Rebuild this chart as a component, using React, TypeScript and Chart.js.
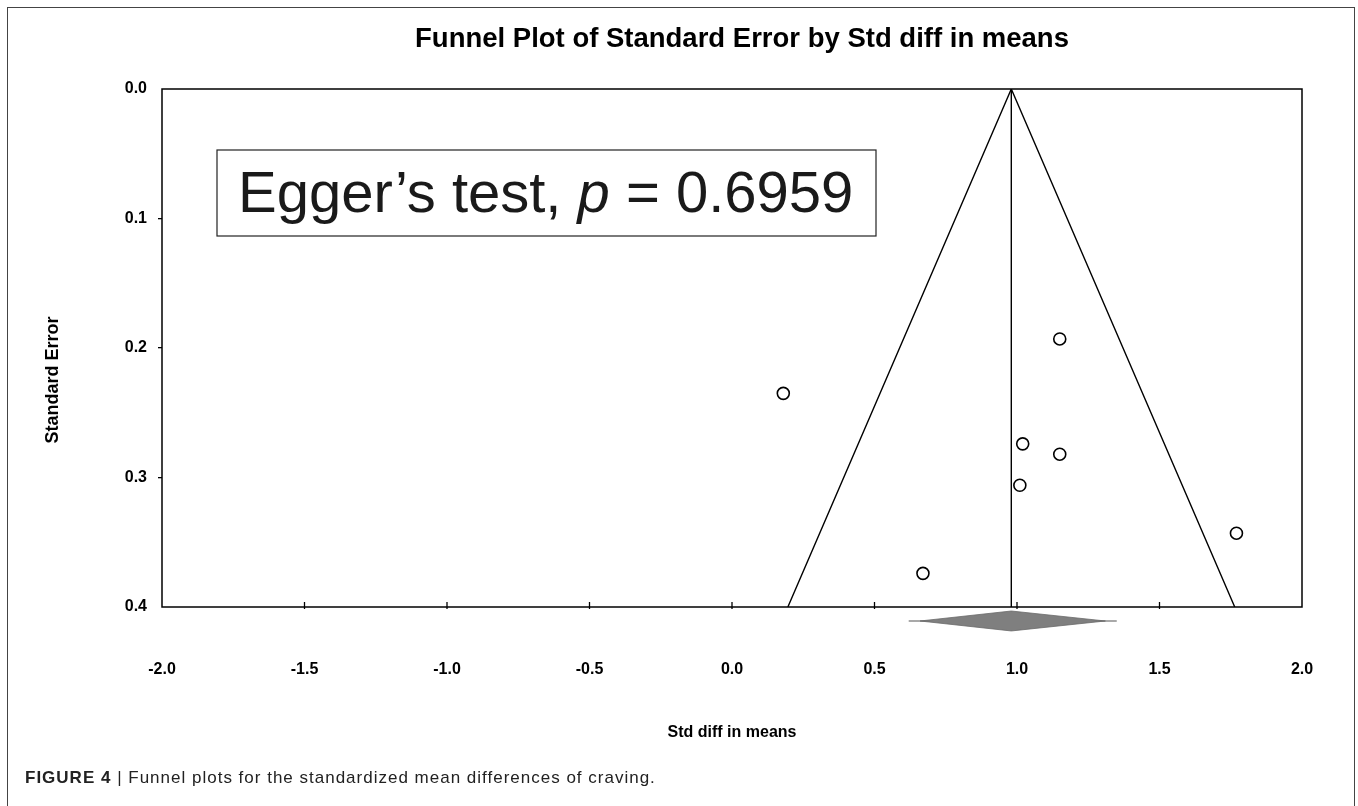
import React, { useEffect, useRef } from "react";
import { Chart, registerables } from "chart.js";

Chart.register(...registerables);

// ---- Data ----
const studyEffect = [1.15, 0.18, 1.02, 1.15, 1.01, 1.77, 0.67];
const studySE = [0.193, 0.235, 0.274, 0.282, 0.306, 0.343, 0.374];

const funnelX = [0.196, 0.98, 1.764];
const funnelY = [0.4, 0.0, 0.4];

const centerX = [0.98, 0.98];
const centerY = [0.0, 0.4];

const diamondX = [0.66, 0.98, 1.31, 0.98];
const diamondY = [0.4108, 0.4031, 0.4108, 0.4185];
const whiskerX = [0.62, 1.35];
const whiskerY = [0.4108, 0.4108];

const xTickValues = [-2.0, -1.5, -1.0, -0.5, 0.0, 0.5, 1.0, 1.5, 2.0];
const yTickValues = [0.0, 0.1, 0.2, 0.3, 0.4];

const chartTitle = "Funnel Plot of Standard Error by Std diff in means";
const xTitle = "Std diff in means";
const yTitle = "Standard Error";
const eggerPre = "Egger\u2019s test, ";
const eggerP = "p";
const eggerPost = " = 0.6959";

const FONT = '"Liberation Sans", Arial, Helvetica, sans-serif';

const overlayPlugin = {
  id: "overlay",
  afterDraw(chart: any) {
    const ctx = chart.ctx as CanvasRenderingContext2D;
    const { left, right, top, bottom } = chart.chartArea;
    const xs = chart.scales.x;
    const ys = chart.scales.y;
    ctx.save();

    // plot box
    ctx.strokeStyle = "#000";
    ctx.lineWidth = 1.5;
    ctx.strokeRect(left, top, right - left, bottom - top);

    // x tick marks crossing the bottom axis
    ctx.lineWidth = 1.3;
    xTickValues.forEach((v, i) => {
      if (i === 0 || i === xTickValues.length - 1) return;
      const px = xs.getPixelForValue(v);
      ctx.beginPath();
      ctx.moveTo(px, bottom - 5);
      ctx.lineTo(px, bottom + 2);
      ctx.stroke();
    });

    // summary diamond with whisker
    ctx.strokeStyle = "#555";
    ctx.lineWidth = 1.2;
    ctx.beginPath();
    ctx.moveTo(xs.getPixelForValue(whiskerX[0]), ys.getPixelForValue(whiskerY[0]));
    ctx.lineTo(xs.getPixelForValue(whiskerX[1]), ys.getPixelForValue(whiskerY[1]));
    ctx.stroke();
    ctx.beginPath();
    diamondX.forEach((v, i) => {
      const px = xs.getPixelForValue(v);
      const py = ys.getPixelForValue(diamondY[i]);
      if (i === 0) ctx.moveTo(px, py);
      else ctx.lineTo(px, py);
    });
    ctx.closePath();
    ctx.fillStyle = "#7f7f7f";
    ctx.fill();
    ctx.strokeStyle = "#6a6a6a";
    ctx.lineWidth = 0.8;
    ctx.stroke();

    // main title
    ctx.fillStyle = "#000";
    ctx.textBaseline = "alphabetic";
    ctx.textAlign = "center";
    ctx.font = `bold 27.5px ${FONT}`;
    ctx.fillText(chartTitle, 742, 47);

    // x axis title
    ctx.font = `bold 16px ${FONT}`;
    ctx.fillText(xTitle, (left + right) / 2, 737);

    // y axis title
    ctx.save();
    ctx.translate(58, 380);
    ctx.rotate(-Math.PI / 2);
    ctx.font = `bold 18px ${FONT}`;
    ctx.textAlign = "center";
    ctx.fillText(yTitle, 0, 0);
    ctx.restore();

    // Egger's test box
    ctx.strokeStyle = "#222";
    ctx.lineWidth = 1.2;
    ctx.strokeRect(217, 150, 659, 86);
    ctx.fillStyle = "#1a1a1a";
    ctx.textAlign = "left";
    let tx = 238;
    const ty = 212;
    ctx.font = `58px ${FONT}`;
    ctx.fillText(eggerPre, tx, ty);
    tx += ctx.measureText(eggerPre).width;
    ctx.font = `italic 58px ${FONT}`;
    ctx.fillText(eggerP, tx, ty);
    tx += ctx.measureText(eggerP).width;
    ctx.font = `58px ${FONT}`;
    ctx.fillText(eggerPost, tx, ty);

    ctx.restore();
  },
};

export default function App() {
  const ref = useRef<HTMLCanvasElement>(null);

  useEffect(() => {
    const canvas = ref.current;
    if (!canvas) return;
    const chart = new Chart(canvas, {
      type: "scatter",
      data: {
        datasets: [
          {
            label: "funnel",
            data: funnelX.map((x, i) => ({ x, y: funnelY[i] })),
            showLine: true,
            borderColor: "#000",
            borderWidth: 1.4,
            pointRadius: 0,
            tension: 0,
          },
          {
            label: "center",
            data: centerX.map((x, i) => ({ x, y: centerY[i] })),
            showLine: true,
            borderColor: "#000",
            borderWidth: 1.4,
            pointRadius: 0,
          },
          {
            label: "studies",
            data: studyEffect.map((x, i) => ({ x, y: studySE[i] })),
            pointRadius: 6,
            pointBorderColor: "#000",
            pointBackgroundColor: "#fff",
            pointBorderWidth: 1.6,
          },
        ],
      },
      options: {
        responsive: false,
        animation: false,
        devicePixelRatio: 1,
        layout: { padding: { top: 89, right: 56, left: 0, bottom: 0 } },
        plugins: {
          legend: { display: false },
          tooltip: { enabled: false },
          title: { display: false },
        },
        scales: {
          x: {
            type: "linear",
            min: -2,
            max: 2,
            afterBuildTicks: (s: any) => {
              s.ticks = xTickValues.map((v) => ({ value: v }));
            },
            afterFit: (s: any) => {
              s.height = 199;
            },
            ticks: {
              callback: (v: any) => Number(v).toFixed(1),
              color: "#000",
              font: { family: FONT, size: 16, weight: "bold" },
              padding: 3,
              maxRotation: 0,
              autoSkip: false,
            },
            grid: { display: false, drawTicks: true, tickLength: 50 },
            border: { display: false },
          },
          y: {
            type: "linear",
            reverse: true,
            min: 0,
            max: 0.4,
            afterBuildTicks: (s: any) => {
              s.ticks = yTickValues.map((v) => ({ value: v }));
            },
            afterFit: (s: any) => {
              s.width = 162;
            },
            ticks: {
              callback: (v: any) => Number(v).toFixed(1),
              color: "#000",
              font: { family: FONT, size: 16, weight: "bold" },
              padding: 11,
              autoSkip: false,
            },
            grid: {
              drawOnChartArea: false,
              drawTicks: true,
              tickLength: 4,
              lineWidth: 1.3,
              color: (c: any) =>
                c.index === 0 || c.index === yTickValues.length - 1 ? "rgba(0,0,0,0)" : "#000",
            },
            border: { display: false },
          },
        },
      },
      plugins: [overlayPlugin],
    } as any);
    return () => chart.destroy();
  }, []);

  return (
    <div style={{ position: "fixed", left: 0, top: 0, width: 1358, height: 806, background: "#fff", overflow: "hidden" }}>
      <div
        style={{
          position: "absolute",
          left: 7,
          top: 7,
          width: 1346,
          height: 830,
          borderTop: "1.5px solid #444",
          borderLeft: "1.5px solid #444",
          borderRight: "1.5px solid #444",
        }}
      />
      <canvas
        ref={ref}
        width={1358}
        height={806}
        style={{ position: "absolute", left: 0, top: 0, width: 1358, height: 806, display: "block" }}
      />
      <div
        style={{
          position: "absolute",
          left: 25,
          top: 768,
          fontFamily: FONT,
          fontSize: 17,
          lineHeight: "19px",
          letterSpacing: "1px",
          color: "#222",
          whiteSpace: "nowrap",
        }}
      >
        <b>FIGURE 4</b> | Funnel plots for the standardized mean differences of craving.
      </div>
    </div>
  );
}
